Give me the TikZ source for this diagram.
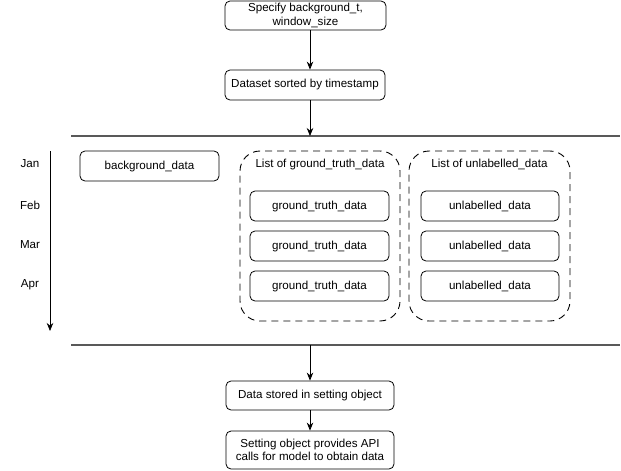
\documentclass[tikz,border=0pt]{standalone}
\usepackage{fontspec}
\setmainfont{Liberation Sans}
\usetikzlibrary{arrows.meta}

\begin{document}
\begin{tikzpicture}[x=1pt, y=-1pt, font=\fontsize{11.6}{13.6}\selectfont,
  box/.style={draw, rounded corners=5pt, line width=0.8pt, align=center, inner sep=0pt},
  listbox/.style={draw, dash pattern=on 7pt off 5pt, rounded corners=20pt, line width=0.9pt, inner sep=0pt},
  arr/.style={-{Stealth[length=8pt,width=6.5pt]}, line width=0.8pt},
  divider/.style={black!65, line width=1.2pt}]
\useasboundingbox (0,0) rectangle (621,471);
% top steps
\node[box, minimum width=161pt, minimum height=29pt] (spec) at (305.5,15.5) {Specify background\_t,\\window\_size};
\node[box, minimum width=160pt, minimum height=30pt] (sorted) at (305,85) {Dataset sorted by timestamp};
\coordinate (ax) at (310,0);
\draw[arr] (spec.south -| ax) -- (sorted.north -| ax);
% dividers
\coordinate (topl) at (71,136);
\coordinate (topr) at (620,136);
\coordinate (botl) at (71,345);
\coordinate (botr) at (620,345);
\draw[divider] (topl) -- (topr);
\draw[divider] (botl) -- (botr);
\draw[arr] (sorted.south -| ax) -- (topl -| ax);
% months
\foreach \m/\y in {Jan/164, Feb/205, Mar/245, Apr/285}
  \node (\m) at (30,\y) {\m};
\coordinate (t0) at (50,151);
\coordinate (t1) at (50,331);
\draw[arr] (t0) -- (t1);
\node[box, minimum width=139pt, minimum height=30pt] (bgdata) at (149.5,166) {background\_data};
% list of ground truth
\node[listbox, minimum width=160pt, minimum height=170pt] (gtlist) at (320,236) {};
\node (gttitle) at (320,164) {List of ground\_truth\_data};
\foreach \i/\y in {1/206, 2/246, 3/286}
  \node[box, minimum width=139pt, minimum height=30pt] (gt\i) at (319.5,\y) {ground\_truth\_data};
% list of unlabelled
\node[listbox, minimum width=161pt, minimum height=170pt] (ullist) at (489.5,236) {};
\node (ultitle) at (489.5,164) {List of unlabelled\_data};
\foreach \i/\y in {1/206, 2/246, 3/286}
  \node[box, minimum width=138pt, minimum height=30pt] (ul\i) at (490,\y) {unlabelled\_data};
% bottom steps
\node[box, minimum width=168pt, minimum height=29pt] (stored) at (310,395.5) {Data stored in setting object};
\node[box, minimum width=168pt, minimum height=38pt] (api) at (310,450) {Setting object provides API\\calls for model to obtain data};
\draw[arr] (botl -| ax) -- (stored.north -| ax);
\draw[arr] (stored.south -| ax) -- (api.north -| ax);
\end{tikzpicture}
\end{document}
